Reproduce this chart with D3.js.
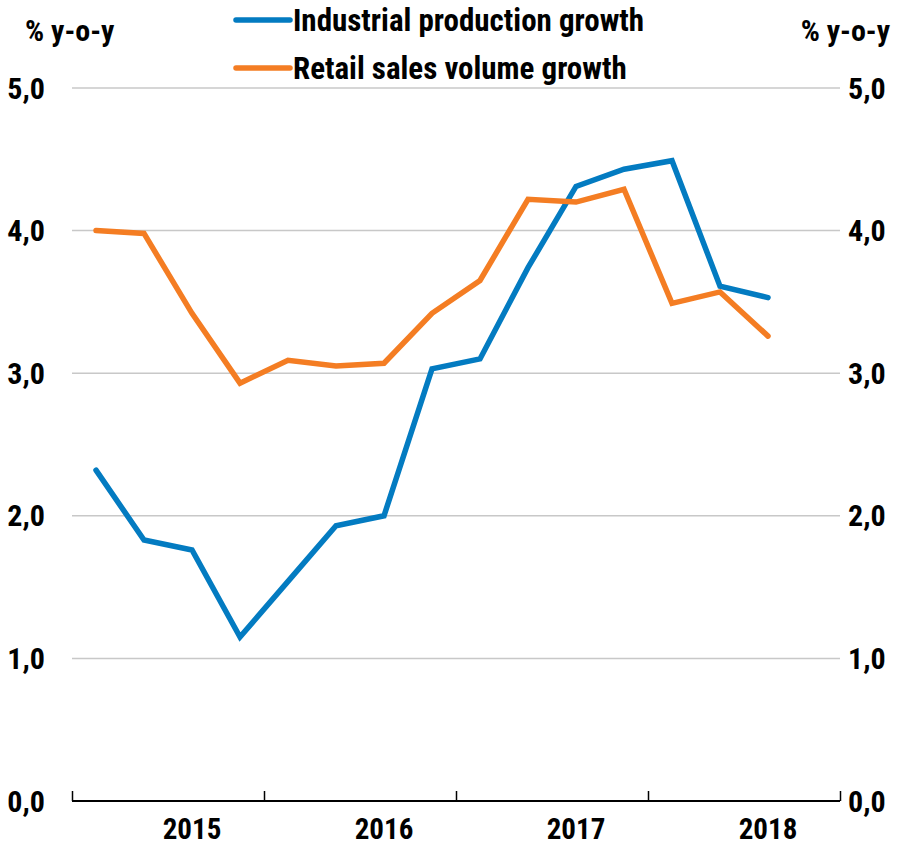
<!DOCTYPE html>
<html>
<head>
<meta charset="utf-8">
<script src="https://cdn.jsdelivr.net/npm/d3@7"></script>
<style>
  body { margin: 0; background: #fff; }
  text { font-family: "Liberation Sans Narrow", "Arial Narrow", "Roboto Condensed", sans-serif; font-weight: bold; fill: #000; }
</style>
</head>
<body>
<div id="container"></div>
<script>
// quarterly data, 2015Q1 - 2018Q3
var quarters = ["2015Q1","2015Q2","2015Q3","2015Q4","2016Q1","2016Q2","2016Q3","2016Q4",
    "2017Q1","2017Q2","2017Q3","2017Q4","2018Q1","2018Q2","2018Q3"];
var industrial = [2.32, 1.83, 1.76, 1.15, 1.54, 1.93, 2.0, 3.03, 3.10, 3.74, 4.31, 4.43, 4.49, 3.61, 3.53];
var retail = [4.0, 3.98, 3.42, 2.93, 3.09, 3.05, 3.07, 3.42, 3.65, 4.22, 4.20, 4.29, 3.49, 3.57, 3.26];
var years = ["2015", "2016", "2017", "2018"];
var yTicks = [0, 1, 2, 3, 4, 5];
var seriesNames = ["Industrial production growth", "Retail sales volume growth"];
var colors = ["#037bc1", "#f47d23"];

var width = 908, height = 847;
var plotLeft = 72, plotRight = 840, plotTop = 88, plotBottom = 801;

var svg = d3.select("#container").append("svg")
    .attr("width", width)
    .attr("height", height);

//scales
var x = d3.scaleLinear().domain([0, 16]).range([plotLeft, plotRight]);
var y = d3.scaleLinear().domain([0, 5]).range([plotBottom, plotTop]);

//gridlines
svg.append("g")
    .selectAll("line")
    .data(yTicks.filter(function (d) { return d > 0; }))
    .enter().append("line")
    .attr("x1", plotLeft)
    .attr("x2", plotRight)
    .attr("y1", function (d) { return y(d); })
    .attr("y2", function (d) { return y(d); })
    .attr("stroke", "#c8c8c8")
    .attr("stroke-width", 1.5);

//tick labels, both sides
var fmt = function (d) { return d3.format(".1f")(d).replace(".", ","); };
svg.append("g")
    .selectAll("text")
    .data(yTicks)
    .enter().append("text")
    .attr("x", 45)
    .attr("y", function (d) { return y(d); })
    .attr("dy", "0.35em")
    .attr("text-anchor", "end")
    .style("font-size", "30px")
    .text(fmt);
svg.append("g")
    .selectAll("text")
    .data(yTicks)
    .enter().append("text")
    .attr("x", 848)
    .attr("y", function (d) { return y(d); })
    .attr("dy", "0.35em")
    .attr("text-anchor", "start")
    .style("font-size", "30px")
    .text(fmt);

//axis titles
svg.append("text").attr("x", 25).attr("y", 30).attr("dy", "0.35em")
    .style("font-size", "30px").text("% y-o-y");
svg.append("text").attr("x", 890).attr("y", 30).attr("dy", "0.35em")
    .attr("text-anchor", "end").style("font-size", "30px").text("% y-o-y");

//x axis
var xAxis = d3.axisBottom(x)
    .tickValues([0, 4, 8, 12, 16])
    .tickSize(-10)
    .tickFormat("");
var gx = svg.append("g")
    .attr("transform", "translate(0," + plotBottom + ")")
    .call(xAxis);
gx.select(".domain").attr("stroke", "#000").attr("stroke-width", 2).attr("d", "M" + plotLeft + ",0H" + plotRight);
gx.selectAll(".tick line").attr("stroke", "#000").attr("stroke-width", 1.5);

svg.append("g")
    .selectAll("text")
    .data(years)
    .enter().append("text")
    .attr("x", function (d, i) { return x(i * 4 + 2.5); })
    .attr("y", 829)
    .attr("dy", "0.35em")
    .attr("text-anchor", "middle")
    .style("font-size", "29px")
    .text(function (d) { return d; });

//lines
var line = d3.line()
    .x(function (d, i) { return x(i + 0.5); })
    .y(function (d) { return y(d); });

[industrial, retail].forEach(function (s, k) {
    svg.append("path")
        .datum(s)
        .attr("d", line)
        .attr("fill", "none")
        .attr("stroke", colors[k])
        .attr("stroke-width", 5.5)
        .attr("stroke-linecap", "round")
        .attr("stroke-linejoin", "miter");
});

//legend
var legend = svg.append("g")
    .selectAll("g")
    .data(seriesNames)
    .enter().append("g")
    .attr("transform", function (d, i) { return "translate(236," + (20 + i * 48) + ")"; });
legend.append("line")
    .attr("x1", 0).attr("x2", 54)
    .attr("stroke", function (d, i) { return colors[i]; })
    .attr("stroke-width", 5.5)
    .attr("stroke-linecap", "round");
legend.append("text")
    .attr("x", 57)
    .attr("dy", "0.35em")
    .style("font-size", "31px")
    .text(function (d) { return d; });
</script>
</body>
</html>
